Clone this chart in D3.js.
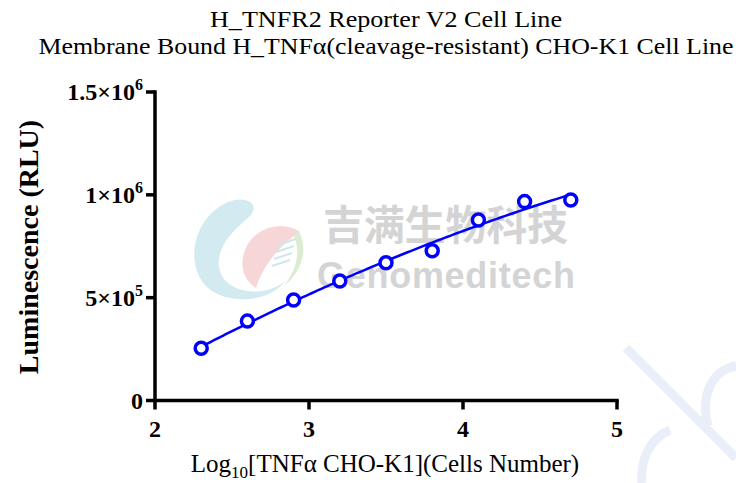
<!DOCTYPE html>
<html>
<head>
<meta charset="utf-8">
<script src="https://cdn.jsdelivr.net/npm/d3@7"></script>
<style>
  body { margin: 0; background: white; }
  svg { display: block; }
</style>
</head>
<body>
<script>
// values
var logCells = [2.3, 2.6, 2.9, 3.2, 3.5, 3.8, 4.1, 4.4, 4.7];
var rlu = [254000, 386000, 489000, 581000, 670000, 728000, 878000, 967000, 975000];
var xTicks = [2, 3, 4, 5];
var yTicks = [0, 500000, 1000000, 1500000];
var yTickMant = ['0', '5', '1', '1.5'];
var yTickExp = ['', '5', '6', '6'];
var titleLines = ['H_TNFR2 Reporter V2 Cell Line', 'Membrane Bound H_TNF\u03b1(cleavage-resistant) CHO-K1 Cell Line'];

var width = 736, height = 483;
var serif = '"Liberation Serif", "Times New Roman", serif';

var svg = d3.select('body').append('svg')
  .attr('width', width)
  .attr('height', height);

var x = d3.scaleLinear().domain([2, 5]).range([155, 617]);
var y = d3.scaleLinear().domain([0, 1500000]).range([400.5, 92]);

// watermark
var wm = svg.append('g');
wm.append('path')
  .attr('d', 'M228,202 C248,194 262,206 248,218 C226,236 212,256 222,276 C234,296 270,296 286,280 C270,304 222,306 204,284 C184,258 196,216 228,202 Z')
  .attr('fill', '#cfe8f0').attr('opacity', 0.9);
wm.append('path')
  .attr('d', 'M300,232 C284,220 256,226 246,248 C238,266 244,280 256,288 C262,268 278,246 300,232 Z')
  .attr('fill', '#f6cfd0').attr('opacity', 0.85);
wm.append('path')
  .attr('d', 'M298,230 C308,246 304,270 284,286 C298,268 300,250 294,236 Z')
  .attr('fill', '#dcecd0');
[0, 1, 2, 3].forEach(function(i) {
  wm.append('line')
    .attr('x1', 272 + i * 2).attr('y1', 266 - i * 7)
    .attr('x2', 290 + i * 2).attr('y2', 260 - i * 7)
    .attr('stroke', '#cfe6ee').attr('stroke-width', 2);
});
wm.append('text')
  .attr('x', 323).attr('y', 240)
  .attr('font-family', '"Noto Sans CJK SC", sans-serif')
  .attr('font-weight', 'bold')
  .attr('font-size', 41)
  .attr('fill', '#d4d4d4')
  .attr('textLength', 245)
  .text('吉满生物科技');
wm.append('text')
  .attr('x', 317).attr('y', 288)
  .attr('font-family', '"Liberation Sans", Arial, sans-serif')
  .attr('font-weight', 'bold')
  .attr('font-size', 36)
  .attr('fill', '#d4d4d4')
  .attr('textLength', 258)
  .text('Genomeditech');
var wm2 = svg.append('g')
  .attr('fill', 'none')
  .attr('stroke', '#e9eef8')
  .attr('stroke-width', 9);
wm2.append('path').attr('d', 'M626,348 L736,458');
wm2.append('path').attr('d', 'M736,366 C712,370 700,396 708,426');
wm2.append('path').attr('d', 'M670,430 C650,438 640,460 642,483');

// axes
var axisG = svg.append('g')
  .attr('stroke', 'black')
  .attr('stroke-width', 3.5)
  .attr('stroke-linecap', 'square');
axisG.append('line')
  .attr('x1', x(2)).attr('x2', x(2))
  .attr('y1', y(1500000)).attr('y2', y(0));
axisG.append('line')
  .attr('x1', x(2)).attr('x2', x(5))
  .attr('y1', y(0)).attr('y2', y(0));
axisG.selectAll('.yt').data(yTicks).enter().append('line')
  .attr('x1', x(2) - 9).attr('x2', x(2))
  .attr('y1', function(d) { return y(d); })
  .attr('y2', function(d) { return y(d); })
  .attr('stroke-linecap', 'butt');
axisG.selectAll('.xt').data(xTicks).enter().append('line')
  .attr('x1', function(d) { return x(d); })
  .attr('x2', function(d) { return x(d); })
  .attr('y1', y(0)).attr('y2', y(0) + 9)
  .attr('stroke-linecap', 'butt');

// y tick labels
yTicks.forEach(function(v, i) {
  var t = svg.append('text')
    .attr('x', x(2) - 12)
    .attr('y', y(v) + 8)
    .attr('text-anchor', 'end')
    .attr('font-family', serif)
    .attr('font-weight', 'bold')
    .attr('font-size', 24);
  if (yTickExp[i] === '') {
    t.text(yTickMant[i]);
  } else {
    t.append('tspan').text(yTickMant[i] + '\u00d710');
    t.append('tspan').attr('dy', -10).attr('font-size', 16).text(yTickExp[i]);
  }
});

// x tick labels
svg.selectAll('.xl').data(xTicks).enter().append('text')
  .attr('x', function(d) { return x(d); })
  .attr('y', 437)
  .attr('text-anchor', 'middle')
  .attr('font-family', serif)
  .attr('font-weight', 'bold')
  .attr('font-size', 24)
  .text(function(d) { return d; });

// titles
svg.append('text')
  .attr('x', 386).attr('y', 27)
  .attr('text-anchor', 'middle')
  .attr('font-family', serif)
  .attr('font-size', 24)
  .attr('textLength', 352)
  .attr('lengthAdjust', 'spacingAndGlyphs')
  .text(titleLines[0]);
svg.append('text')
  .attr('x', 386).attr('y', 54)
  .attr('text-anchor', 'middle')
  .attr('font-family', serif)
  .attr('font-size', 24)
  .attr('textLength', 695)
  .attr('lengthAdjust', 'spacingAndGlyphs')
  .text(titleLines[1]);

// axis titles
svg.append('text')
  .attr('transform', 'translate(38,247) rotate(-90)')
  .attr('text-anchor', 'middle')
  .attr('font-family', serif)
  .attr('font-weight', 'bold')
  .attr('font-size', 28)
  .text('Luminescence (RLU)');
var xl = svg.append('text')
  .attr('x', 385).attr('y', 472)
  .attr('text-anchor', 'middle')
  .attr('font-family', serif)
  .attr('font-size', 25);
xl.append('tspan').text('Log');
xl.append('tspan').attr('dy', 6).attr('font-size', 17).text('10');
xl.append('tspan').attr('dy', -6).text('[TNF\u03b1 CHO-K1](Cells Number)');

// fitted curve: least-squares quadratic through the points
function fitQuad(xs, ys) {
  var n = xs.length, s = [0, 0, 0, 0, 0], t = [0, 0, 0];
  for (var i = 0; i < n; i++) {
    var p = 1;
    for (var k = 0; k < 5; k++) { s[k] += p; if (k < 3) t[k] += p * ys[i]; p *= xs[i]; }
  }
  var m = [[s[0], s[1], s[2], t[0]], [s[1], s[2], s[3], t[1]], [s[2], s[3], s[4], t[2]]];
  for (var c = 0; c < 3; c++) {
    for (var r = c + 1; r < 3; r++) {
      var f = m[r][c] / m[c][c];
      for (var j = c; j < 4; j++) m[r][j] -= f * m[c][j];
    }
  }
  var b = [0, 0, 0];
  for (var r2 = 2; r2 >= 0; r2--) {
    var sum = m[r2][3];
    for (var j2 = r2 + 1; j2 < 3; j2++) sum -= m[r2][j2] * b[j2];
    b[r2] = sum / m[r2][r2];
  }
  return function(v) { return b[0] + b[1] * v + b[2] * v * v; };
}
var fit = fitQuad(logCells, rlu);
var curveX = d3.range(logCells[0], logCells[logCells.length - 1] + 0.001, 0.02);
var line = d3.line()
  .x(function(d) { return x(d); })
  .y(function(d) { return y(fit(d)); });
svg.append('path')
  .datum(curveX)
  .attr('d', line)
  .attr('fill', 'none')
  .attr('stroke', '#0000ff')
  .attr('stroke-width', 2.5);

// points
svg.selectAll('.pt').data(logCells).enter().append('circle')
  .attr('cx', function(d) { return x(d); })
  .attr('cy', function(d, i) { return y(rlu[i]); })
  .attr('r', 6)
  .attr('fill', 'white')
  .attr('stroke', '#0000ff')
  .attr('stroke-width', 3.5);
</script>
</body>
</html>
